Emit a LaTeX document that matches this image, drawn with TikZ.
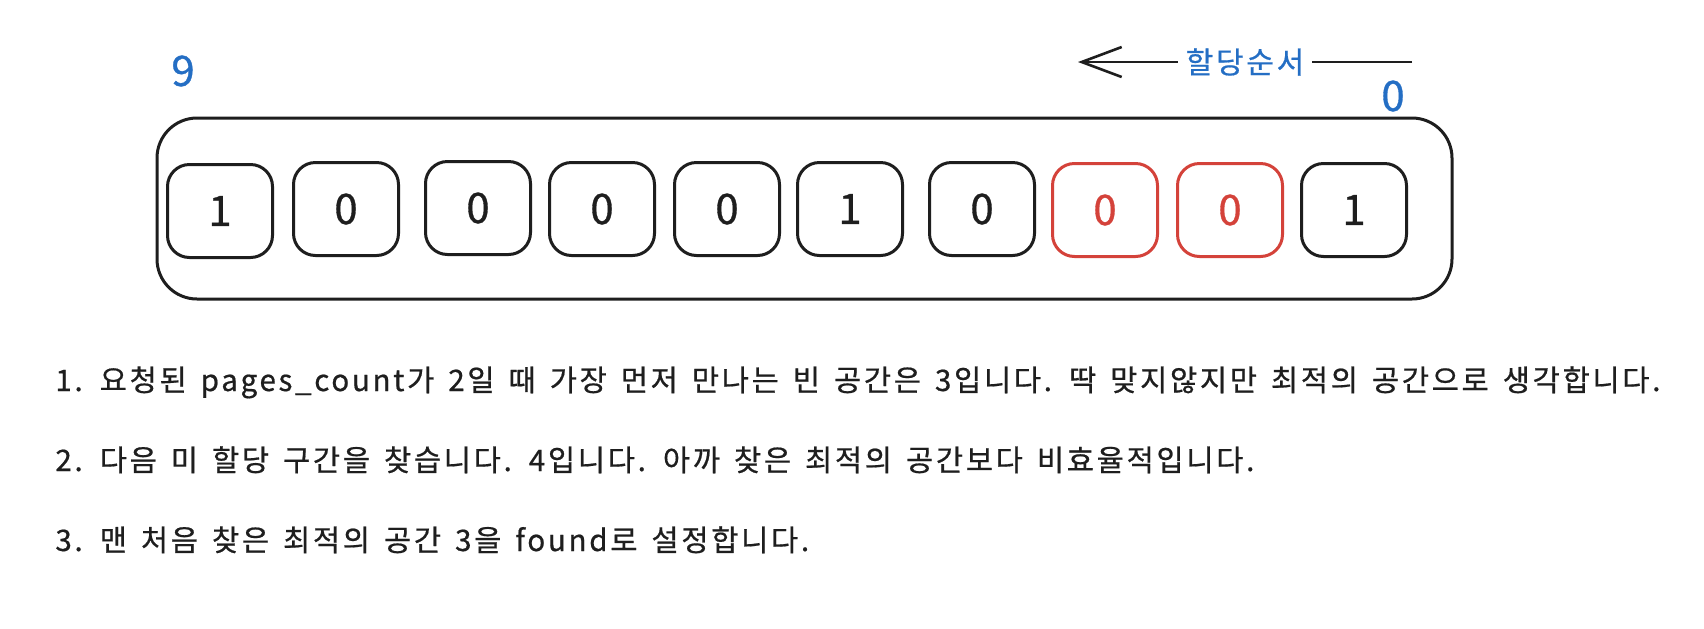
\documentclass[tikz,border=0pt]{standalone}
\usepackage{fontspec}
\setmainfont{Noto Sans CJK KR}
\newfontfamily\bodyfont[LetterSpace=9,WordSpace=1.5,FakeBold=0.6]{Noto Sans CJK KR}
\newfontfamily\digitfont[FakeBold=0.8]{Noto Sans CJK KR}
\usetikzlibrary{arrows.meta}
\definecolor{ink}{RGB}{30,30,30}
\definecolor{exblue}{RGB}{36,110,196}
\definecolor{exred}{RGB}{212,66,58}
\tikzset{
  cell/.style={draw=ink, line width=1.5pt, rounded corners=11pt, minimum width=52.5pt, minimum height=46.5pt, inner sep=0pt, font=\digitfont\fontsize{21}{24}\selectfont, text=ink},
  redcell/.style={cell, draw=exred, text=exred},
  outerbox/.style={draw=ink, line width=1.5pt, rounded corners=20pt, minimum width=647.5pt, minimum height=90.5pt, inner sep=0pt},
  bluelabel/.style={text=exblue, font=\digitfont\fontsize{21}{24}\selectfont, inner sep=0pt},
  arrowline/.style={draw=ink, line width=1.3pt, -{Straight Barb[length=20pt, width=15pt, line width=1.3pt]}},
  arrowlabel/.style={fill=white, text=exblue, font=\bodyfont\fontsize{15}{18}\selectfont, inner xsep=4pt, inner ysep=2pt},
  bodytext/.style={anchor=base west, text=ink, font=\bodyfont\fontsize{14.8}{17}\selectfont, inner sep=0pt}
}
\begin{document}
\begin{tikzpicture}[x=0.5pt, y=-0.5pt]
\useasboundingbox (0,0) rectangle (1704,628);
\fill[white] (0,0) rectangle (1704,628);
\node[outerbox] (arr) at (804.5,208.5) {};
\node[cell] (c9) at (220,211) {1};
\node[cell] (c8) at (346,209) {0};
\node[cell] (c7) at (478,208) {0};
\node[cell] (c6) at (602,209) {0};
\node[cell] (c5) at (727,209) {0};
\node[cell] (c4) at (850,209) {1};
\node[cell] (c3) at (982,209) {0};
\node[redcell] (c2) at (1105,210) {0};
\node[redcell] (c1) at (1230,210) {0};
\node[cell] (c0) at (1354,210) {1};
\node[bluelabel] (n9) at (183,71) {9};
\node[bluelabel] (n0) at (1393,96) {0};
\coordinate (as) at (1412,62);
\coordinate (ae) at (1078,62);
\draw[arrowline] (as) -- node[arrowlabel] (al) {할당순서} (ae);
\node[bodytext] (t1) at (55,391) {1. 요청된 pages\_count가 2일 때 가장 먼저 만나는 빈 공간은 3입니다. 딱 맞지않지만 최적의 공간으로 생각합니다.};
\node[bodytext] (t2) at (55,471) {2. 다음 미 할당 구간을 찾습니다. 4입니다. 아까 찾은 최적의 공간보다 비효율적입니다.};
\node[bodytext] (t3) at (55,551) {3. 맨 처음 찾은 최적의 공간 3을 found로 설정합니다.};
\end{tikzpicture}
\end{document}
